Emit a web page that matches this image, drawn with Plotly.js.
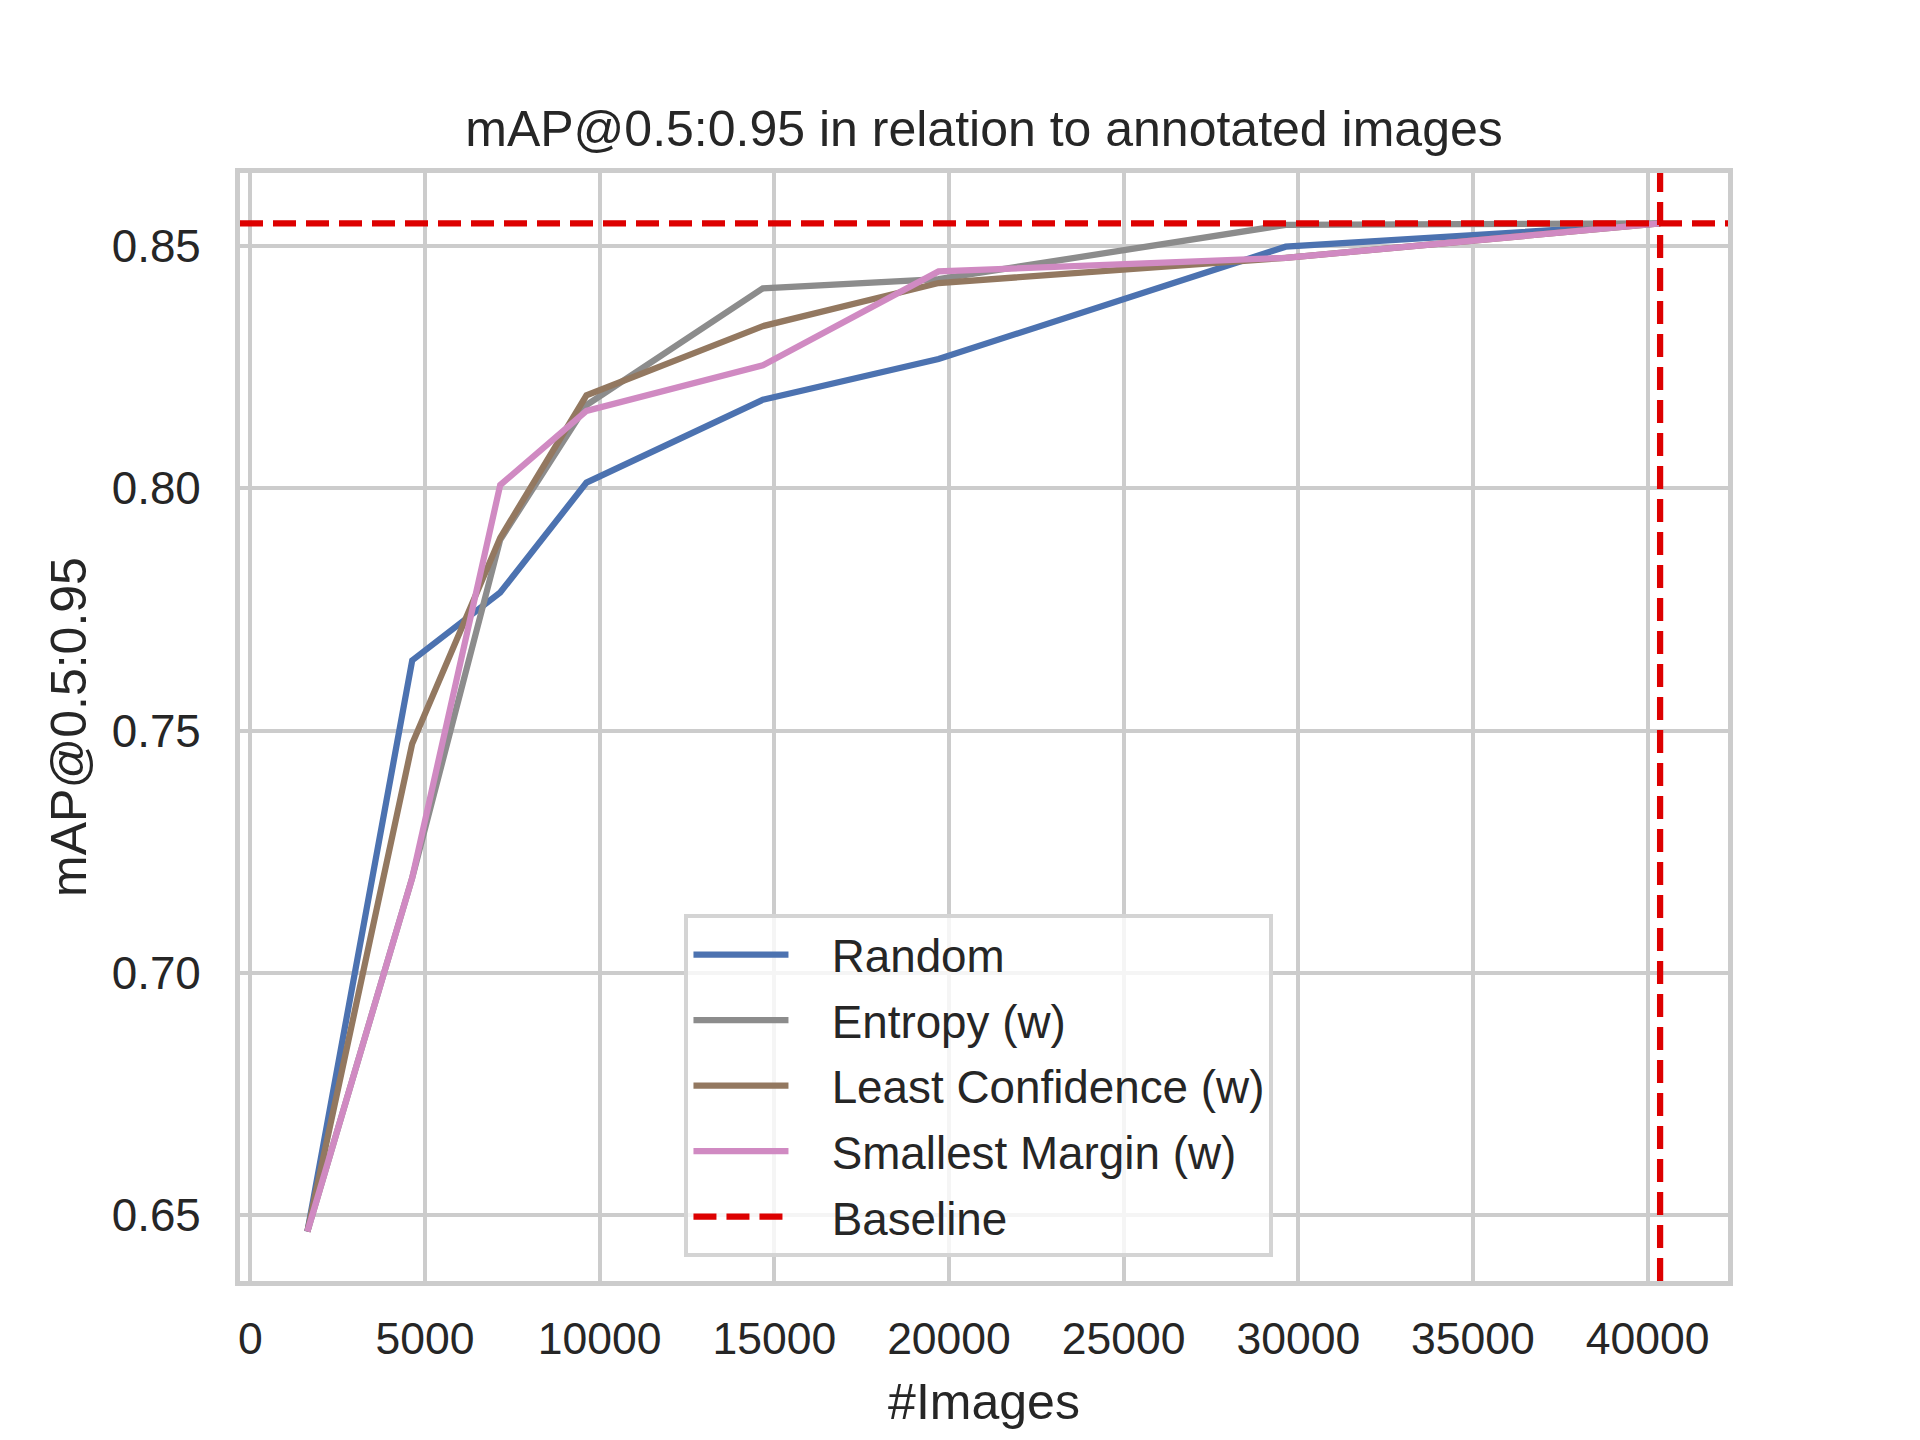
<!DOCTYPE html>
<html>
<head>
<meta charset="utf-8">
<script src="https://cdn.plot.ly/plotly-3.0.1.min.js"></script>
<style>
  html, body { margin: 0; padding: 0; background: #ffffff; }
  #chart { width: 1920px; height: 1440px; }
</style>
</head>
<body>
<div id="chart"></div>
<script>
// ---- data ----
const images = [1630, 4630, 7150, 9620, 14670, 19700, 29640, 40360];
const randomMAP = [0.6466, 0.7645, 0.7785, 0.8012, 0.8183, 0.8267, 0.8499, 0.8547];
const entropyMAP = [0.6466, 0.7196, 0.7894, 0.8172, 0.8413, 0.8432, 0.8544, 0.8547];
const leastConfMAP = [0.6466, 0.7473, 0.7898, 0.8192, 0.8335, 0.8424, 0.8476, 0.8547];
const smallestMarginMAP = [0.6466, 0.7196, 0.8007, 0.8160, 0.8254, 0.8448, 0.8476, 0.8547];
const baselineMAP = 0.8547;
const baselineImages = 40360;

const seriesNames = ["Random", "Entropy (w)", "Least Confidence (w)", "Smallest Margin (w)"];
const seriesValues = [randomMAP, entropyMAP, leastConfMAP, smallestMarginMAP];
const seriesColors = ["#4C72B0", "#8C8C8C", "#937860", "#D08AC2"];
const baselineName = "Baseline";

const xTickVals = [0, 5000, 10000, 15000, 20000, 25000, 30000, 35000, 40000];
const yTickVals = [0.65, 0.70, 0.75, 0.80, 0.85];
const xRange = [-300, 42304];
const yRange = [0.63638, 0.86511];

const FONT = "'Liberation Sans', Arial, 'DejaVu Sans', sans-serif";
const TEXT = "#262626";
const GRID = "#cccccc";
const LEGEND_GAP = "\u2002\u2004"; // spacing between legend line sample and its label

const traces = seriesNames.map((name, i) => ({
  type: "scatter",
  mode: "lines",
  name: LEGEND_GAP + name,
  legendgroup: "g" + i,
  x: images,
  y: seriesValues[i],
  line: { color: seriesColors[i], width: 6.25 }
}));

traces.push({
  type: "scatter",
  mode: "lines",
  name: LEGEND_GAP + baselineName,
  legendgroup: "g4",
  x: xRange,
  y: [baselineMAP, baselineMAP],
  line: { color: "#DD0000", width: 6.25, dash: "23px,10px" }
});

const layout = {
  width: 1920,
  height: 1440,
  paper_bgcolor: "#ffffff",
  plot_bgcolor: "#ffffff",
  margin: { l: 240, r: 192, t: 173, b: 159, pad: 0 },
  font: { family: FONT, color: TEXT, size: 46 },
  title: {
    text: "mAP@0.5:0.95 in relation to annotated images",
    font: { family: FONT, size: 50, color: TEXT },
    x: 0.5, xref: "paper", xanchor: "center",
    y: 1, yref: "paper", yanchor: "bottom",
    pad: { b: 27 }
  },
  xaxis: {
    range: xRange,
    tickmode: "array",
    tickvals: xTickVals,
    ticktext: xTickVals.map(v => String(v)),
    showgrid: true, gridcolor: GRID, gridwidth: 4,
    zeroline: false,
    showline: true, linecolor: GRID, linewidth: 5, mirror: true,
    ticks: "",
    ticklabelstandoff: 15,
    tickfont: { family: FONT, size: 44.5, color: TEXT },
    automargin: false,
    title: { text: "#Images", font: { family: FONT, size: 50, color: TEXT }, standoff: 23 }
  },
  yaxis: {
    range: yRange,
    tickmode: "array",
    tickvals: yTickVals,
    ticktext: yTickVals.map(v => v.toFixed(2)),
    showgrid: true, gridcolor: GRID, gridwidth: 4,
    zeroline: false,
    showline: true, linecolor: GRID, linewidth: 5, mirror: true,
    ticks: "",
    ticklabelstandoff: 25,
    tickfont: { family: FONT, size: 45.8, color: TEXT },
    automargin: false,
    title: { text: "mAP@0.5:0.95", font: { family: FONT, size: 50, color: TEXT }, standoff: 11 }
  },
  shapes: [{
    type: "line", layer: "above",
    xref: "x", yref: "paper",
    x0: baselineImages, x1: baselineImages, y0: 0, y1: 1,
    line: { color: "#DD0000", width: 6.25, dash: "23px,10px" }
  }],
  showlegend: true,
  legend: {
    x: 0.2987, y: 0.331, xanchor: "left", yanchor: "top",
    xref: "paper", yref: "paper",
    bgcolor: "rgba(255,255,255,0.8)",
    bordercolor: "#d4d4d4", borderwidth: 4,
    font: { family: FONT, size: 45.8, color: TEXT },
    itemwidth: 95,
    traceorder: "grouped",
    tracegroupgap: 3
  }
};

Plotly.newPlot("chart", traces, layout, { staticPlot: true, displayModeBar: false });
</script>
</body>
</html>
